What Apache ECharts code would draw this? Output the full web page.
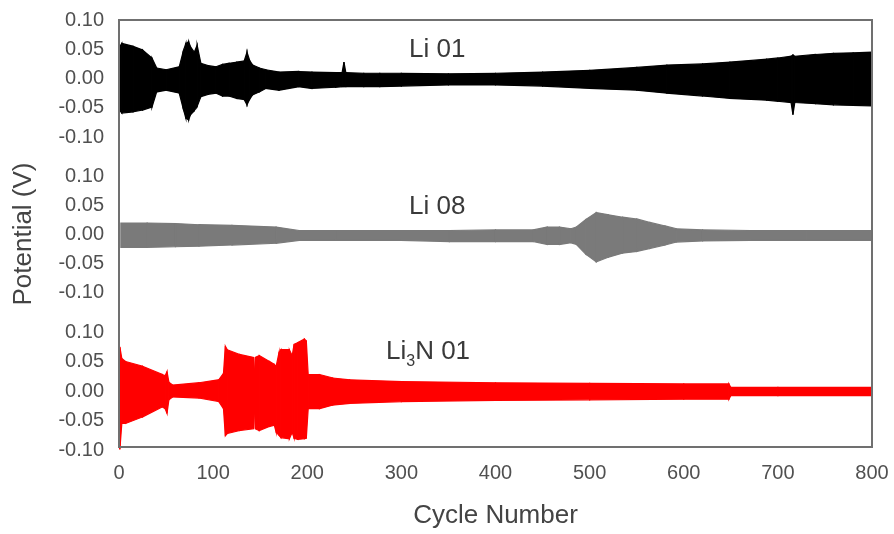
<!DOCTYPE html>
<html>
<head>
<meta charset="utf-8">
<script src="https://cdn.jsdelivr.net/npm/echarts@6/dist/echarts.min.js"></script>
<style>
html,body{margin:0;padding:0;background:#fff;}
#chart{width:894px;height:534px;}
</style>
</head>
<body>
<div id="chart"></div>
<script>
// ---- data (envelopes of the potential oscillation) ----
const xTicks = [0, 100, 200, 300, 400, 500, 600, 700, 800];
const yTicks = [-0.10, -0.05, 0.00, 0.05, 0.10];

const li01X  = [1, 3, 15, 25, 35, 40, 50, 64, 68, 71, 74, 76, 80, 83, 87, 95, 103, 110, 117, 125, 133, 136, 139, 142, 149, 156, 170, 191, 205, 230, 237, 239, 241, 260, 277, 300, 350, 400, 450, 500, 550, 582, 620, 649, 688, 700, 714, 716, 718, 740, 759, 780, 800];
const li01Hi = [0.055, 0.06, 0.055, 0.049, 0.035, 0.018, 0.015, 0.02, 0.045, 0.06, 0.063, 0.054, 0.045, 0.057, 0.026, 0.022, 0.02, 0.024, 0.026, 0.028, 0.03, 0.045, 0.03, 0.023, 0.018, 0.015, 0.011, 0.012, 0.011, 0.01, 0.01, 0.028, 0.01, 0.009, 0.009, 0.009, 0.008, 0.009, 0.011, 0.014, 0.019, 0.023, 0.025, 0.028, 0.033, 0.035, 0.038, 0.04, 0.038, 0.041, 0.043, 0.044, 0.045];
const li01Lo = [-0.055, -0.059, -0.057, -0.054, -0.049, -0.023, -0.02, -0.025, -0.05, -0.068, -0.071, -0.062, -0.055, -0.048, -0.031, -0.027, -0.025, -0.03, -0.03, -0.034, -0.036, -0.045, -0.035, -0.028, -0.023, -0.017, -0.02, -0.014, -0.017, -0.015, -0.014, -0.014, -0.014, -0.014, -0.014, -0.013, -0.011, -0.011, -0.013, -0.017, -0.02, -0.025, -0.03, -0.034, -0.037, -0.039, -0.041, -0.062, -0.041, -0.043, -0.045, -0.046, -0.047];

const li08X  = [2, 30, 60, 85, 120, 167, 191, 230, 300, 351, 400, 440, 455, 468, 480, 486, 496, 507, 520, 535, 550, 564, 580, 592, 620, 670, 730, 800];
const li08Hi = [0.019, 0.019, 0.018, 0.016, 0.015, 0.012, 0.006, 0.006, 0.006, 0.006, 0.007, 0.007, 0.012, 0.012, 0.009, 0.012, 0.025, 0.037, 0.033, 0.029, 0.026, 0.02, 0.014, 0.009, 0.007, 0.006, 0.006, 0.006];
const li08Lo = [-0.023, -0.023, -0.022, -0.021, -0.019, -0.016, -0.011, -0.011, -0.011, -0.013, -0.013, -0.013, -0.018, -0.018, -0.015, -0.018, -0.035, -0.048, -0.04, -0.033, -0.03, -0.025, -0.019, -0.014, -0.012, -0.011, -0.011, -0.011];

const li3nX  = [0, 1, 3, 7, 25, 46, 49, 51, 53, 57, 85, 106, 111, 113, 115, 128, 143, 144, 145, 149, 160, 165, 167, 170, 172, 181, 184, 186, 190, 197, 199, 201, 213, 227, 245, 300, 400, 500, 600, 648, 650, 700, 800];
const li3nHi = [0.074, 0.074, 0.055, 0.05, 0.042, 0.028, 0.026, 0.033, 0.015, 0.01, 0.014, 0.019, 0.03, 0.076, 0.07, 0.062, 0.057, 0.03, 0.057, 0.06, 0.05, 0.045, 0.042, 0.065, 0.07, 0.07, 0.06, 0.079, 0.082, 0.088, 0.085, 0.028, 0.028, 0.022, 0.019, 0.016, 0.014, 0.013, 0.012, 0.012, 0.006, 0.006, 0.006];
const li3nLo = [-0.098, -0.098, -0.055, -0.055, -0.044, -0.027, -0.03, -0.038, -0.015, -0.01, -0.012, -0.018, -0.03, -0.076, -0.072, -0.067, -0.064, -0.03, -0.064, -0.067, -0.06, -0.058, -0.07, -0.075, -0.079, -0.081, -0.07, -0.08, -0.082, -0.081, -0.08, -0.03, -0.03, -0.024, -0.021, -0.018, -0.016, -0.015, -0.014, -0.014, -0.008, -0.008, -0.008];

const seriesNames = ['Li 01', 'Li 08', 'Li3N 01'];

// ---- build band segments ----
function segments(xs, lo, hi) {
  const out = [];
  for (let i = 0; i < xs.length - 1; i++) {
    out.push([xs[i], lo[i], hi[i], xs[i + 1], lo[i + 1], hi[i + 1]]);
  }
  return out;
}
function bandSeries(name, idx, xs, lo, hi, color) {
  return {
    name: name,
    type: 'custom',
    xAxisIndex: idx,
    yAxisIndex: idx,
    clip: true,
    encode: { x: [0, 3], y: [1, 2, 4, 5] },
    data: segments(xs, lo, hi),
    renderItem: function (params, api) {
      const a = api.coord([api.value(0), api.value(2)]);
      const b = api.coord([api.value(3), api.value(5)]);
      const c = api.coord([api.value(3), api.value(4)]);
      const d = api.coord([api.value(0), api.value(1)]);
      return {
        type: 'polygon',
        shape: { points: [a, b, c, d] },
        style: { fill: color, stroke: color, lineWidth: 1.2 }
      };
    },
    silent: true
  };
}

const LEFT = 119, RIGHT = 22;
const FONT = 'Liberation Sans, Arial, sans-serif';
const tickFont = { fontFamily: FONT, fontSize: 20, color: '#505050' };

function panelY(idx, extra) {
  return Object.assign({
    type: 'value', gridIndex: idx, min: -0.1, max: 0.1, interval: 0.05,
    axisLine: { show: false }, axisTick: { show: false }, splitLine: { show: false },
    axisLabel: Object.assign({ margin: 15, formatter: function (v) { return (Math.abs(v) < 1e-9 ? 0 : v).toFixed(2); } }, tickFont)
  }, extra || {});
}
function hiddenX(idx) {
  return { type: 'value', gridIndex: idx, min: 0, max: 800, show: false, splitLine: { show: false } };
}

const chart = echarts.init(document.getElementById('chart'), null, { renderer: 'canvas' });
chart.setOption({
  animation: false,
  backgroundColor: '#fff',
  grid: [
    { left: LEFT, right: RIGHT, top: 20, bottom: 84, show: true, borderColor: '#707070', borderWidth: 2, backgroundColor: 'transparent', z: 5 },
    { left: LEFT, right: RIGHT, top: 20, height: 117 },
    { left: LEFT, right: RIGHT, top: 176, height: 116 },
    { left: LEFT, right: RIGHT, top: 332, height: 118 }
  ],
  xAxis: [
    {
      type: 'value', gridIndex: 0, min: xTicks[0], max: xTicks[xTicks.length - 1], interval: 100,
      axisLine: { show: false }, axisTick: { show: false }, splitLine: { show: false },
      axisLabel: Object.assign({ margin: 16 }, tickFont),
      name: 'Cycle Number', nameLocation: 'middle', nameGap: 56,
      nameTextStyle: { fontFamily: FONT, fontSize: 26, color: '#444' }
    },
    hiddenX(1), hiddenX(2), hiddenX(3)
  ],
  yAxis: [
    { type: 'value', gridIndex: 0, min: 0, max: 1, show: false },
    panelY(1),
    panelY(2, { name: 'Potential (V)', nameLocation: 'middle', nameGap: 82, nameTextStyle: { fontFamily: FONT, fontSize: 26, color: '#444' } }),
    panelY(3)
  ],
  series: [
    bandSeries(seriesNames[0], 1, li01X, li01Lo, li01Hi, '#000000'),
    bandSeries(seriesNames[1], 2, li08X, li08Lo, li08Hi, '#7a7a7a'),
    bandSeries(seriesNames[2], 3, li3nX, li3nLo, li3nHi, '#ff0000')
  ],
  graphic: [
    { type: 'text', left: 409, top: 37, style: { text: 'Li 01', font: '26px "Liberation Sans", Arial, sans-serif', fill: '#3a3a3a' } },
    { type: 'text', left: 409, top: 194, style: { text: 'Li 08', font: '26px "Liberation Sans", Arial, sans-serif', fill: '#3a3a3a' } },
    { type: 'text', left: 386, top: 339, style: {
        fill: '#3a3a3a',
        text: '{b|Li}{s|3}{b|N 01}',
        rich: {
          b: { fontFamily: FONT, fontSize: 26, fill: '#3a3a3a', verticalAlign: 'top' },
          s: { fontFamily: FONT, fontSize: 16, fill: '#3a3a3a', padding: [15, 0, 0, 0] }
        }
      } }
  ]
});
</script>
</body>
</html>
